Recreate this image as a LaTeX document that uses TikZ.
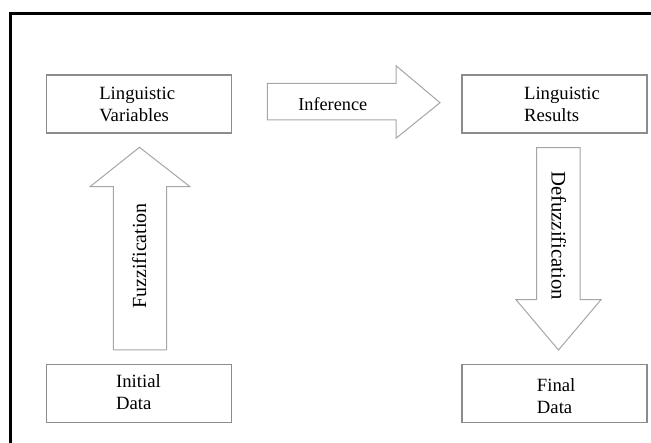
\documentclass[tikz,border=0pt]{standalone}
\usepackage{fontspec}
\setmainfont{Liberation Serif}

\begin{document}
\begin{tikzpicture}[x=1pt,y=1pt,
		block/.style={draw=black!45, line width=1.2pt, minimum width=185pt, minimum height=58pt, inner sep=0pt},
		caption/.style={align=left, inner sep=0pt, font=\fontsize{18.7}{21.7}\selectfont},
		fatarrow/.style={draw=black!35, line width=1pt, fill=white, line join=miter},
		arrowtext/.style={inner sep=0pt, font=\fontsize{20}{24}\selectfont}]
		\useasboundingbox (0,0) rectangle (651,443);
		% frame
		\draw[line width=2.7pt] (10.3,0) -- (10.3,429.7) -- (651,429.7);
		% boxes
		\node[block] (vars) at (139.2,339) {};
		\node[block] (results) at (554.5,339) {};
		\node[block] (initial) at (139.2,49.7) {};
		\node[block] (final) at (554.5,49.7) {};
		\node[caption] (vars-text) at (137.2,338.5) {Linguistic\\Variables};
		\node[caption] (results-text) at (562,338.5) {Linguistic\\Results};
		\node[caption] (initial-text) at (138.5,50.8) {Initial\\Data};
		\node[caption] (final-text) at (556.2,46.8) {Final\\Data};
		% block arrows
		\draw[fatarrow] (267.3,359.7) -- (396,359.7) -- (396,377.3) -- (440,340.3)
			-- (396,304.7) -- (396,323) -- (267.3,323) -- cycle;
		\draw[fatarrow] (113.3,93) -- (113.3,256.3) -- (90,256.3) -- (139.5,295.7)
			-- (190,256.3) -- (166.5,256.3) -- (166.5,93) -- cycle;
		\draw[fatarrow] (536.7,295.3) -- (536.7,143.3) -- (516,143.3) -- (558.5,93)
			-- (601,143.3) -- (580,143.3) -- (580,295.3) -- cycle;
		\node[arrowtext, font=\fontsize{18.3}{22}\selectfont] (inference) at (332.8,338.8) {Inference};
		\node[arrowtext, rotate=90] (fuzz) at (139.2,187.2) {Fuzzification};
		\node[arrowtext, rotate=-90, font=\fontsize{20.7}{24}\selectfont] (defuzz) at (558.7,207.2) {Defuzzification};
	\end{tikzpicture}
\end{document}
